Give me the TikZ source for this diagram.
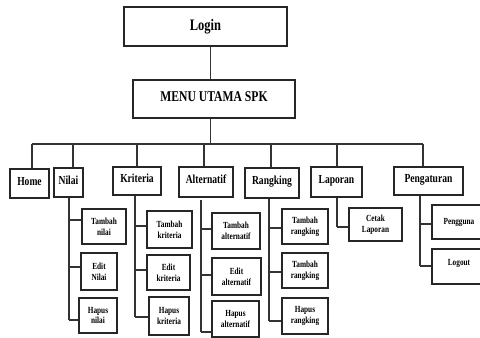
\documentclass[tikz,border=0pt]{standalone}
\usepackage{fontspec}
\setmainfont{Liberation Serif}[FakeStretch=0.78]
\begin{document}
\begin{tikzpicture}[x=0.75pt,y=-0.75pt,
  box/.style 2 args={draw=black!85, line width=0.9pt, rectangle, inner sep=0pt,
    minimum width=#1*0.75pt, minimum height=#2*0.75pt, align=center},
  topbox/.style 2 args={box={#1}{#2}, font=\fontsize{12}{14}\selectfont\bfseries},
  menubox/.style 2 args={box={#1}{#2}, font=\fontsize{11.2}{13}\selectfont\bfseries,
    text height=8pt, text depth=4pt},
  secbox/.style 2 args={box={#1}{#2}, font=\fontsize{9.2}{11}\selectfont\bfseries,
    text height=7pt, text depth=4pt},
  subbox/.style 2 args={box={#1}{#2}, font=\fontsize{7}{8}\selectfont\bfseries},
  link/.style={draw=black!80, line width=1pt}]
\useasboundingbox (0,0) rectangle (480,338);
\clip (0,0) rectangle (480,338);
\fill[white] (0,0) rectangle (480,338);

% top of the hierarchy
\node[topbox={163}{39}] (login) at (205.5,26.5) {Login};
\node[menubox={162}{38}] (menu) at (214,99) {MENU UTAMA SPK};

% main menu entries
\node[secbox={39}{29}] (home) at (29.5,183.5) {Home};
\node[secbox={29}{29}] (nilai) at (68.5,182.5) {Nilai};
\node[secbox={48}{28}] (kriteria) at (137,181) {Kriteria};
\node[secbox={54}{30}] (alternatif) at (206,182) {Alternatif};
\node[secbox={54}{30}] (rangking) at (272,183) {Rangking};
\node[secbox={51}{30}] (laporan) at (336.5,182) {Laporan};
\node[secbox={69}{28}] (pengaturan) at (428.5,181) {Pengaturan};

% sub menus
\node[subbox={44}{35}] (tnilai) at (104,226.5) {Tambah\\nilai};
\node[subbox={36}{37}] (enilai) at (99,271.5) {Edit\\Nilai};
\node[subbox={38}{35}] (hnilai) at (98,315.5) {Hapus\\nilai};

\node[subbox={45}{37}] (tkrit) at (169.5,229.5) {Tambah\\kriteria};
\node[subbox={43}{35}] (ekrit) at (168.5,272.5) {Edit\\kriteria};
\node[subbox={40}{38}] (hkrit) at (169,316) {Hapus\\kriteria};

\node[subbox={48}{36}] (talt) at (236,231) {Tambah\\alternatif};
\node[subbox={49}{37}] (ealt) at (236.5,276.5) {Edit\\alternatif};
\node[subbox={47}{36}] (halt) at (235.5,319) {Hapus\\alternatif};

\node[subbox={46}{35}] (trang) at (305,226.5) {Tambah\\rangking};
\node[subbox={46}{35}] (erang) at (305,270.5) {Tambah\\rangking};
\node[subbox={46}{36}] (hrang) at (305,316) {Hapus\\rangking};

\node[subbox={53}{33}] (cetak) at (375.5,224.5) {Cetak\\Laporan};

\node[subbox={54}{34}] (pengguna) at (459,222) {Pengguna};
\node[subbox={54}{35}] (logout) at (459,266.5) {\raisebox{6pt}{Logout}};

% login -> main menu -> bus
\coordinate (spine) at (210.5,144);
\draw[link] (spine |- login.south) -- (spine |- menu.north);
\draw[link] (spine |- menu.south) -- (spine);
\coordinate (busL) at (32,144);
\coordinate (busR) at (423,144);
\draw[link] (busL) -- (busR);

% drops from the bus
\coordinate (dHome) at (32,144);
\coordinate (dNilai) at (73,144);
\coordinate (dKrit) at (137,144);
\coordinate (dAlt) at (204,144);
\coordinate (dRang) at (271,144);
\coordinate (dLap) at (337,144);
\coordinate (dPeng) at (423,144);
\draw[link] (dHome) -- (dHome |- home.north);
\draw[link] (dNilai) -- (dNilai |- nilai.north);
\draw[link] (dKrit) -- (dKrit |- kriteria.north);
\draw[link] (dAlt) -- (dAlt |- alternatif.north);
\draw[link] (dRang) -- (dRang |- rangking.north);
\draw[link] (dLap) -- (dLap |- laporan.north);
\draw[link] (dPeng) -- (dPeng |- pengaturan.north);

% Nilai branch
\coordinate (n1) at (69,220);
\coordinate (n2) at (69,267);
\coordinate (n3) at (69,320);
\draw[link] (n3 |- nilai.south) -- (n3);
\draw[link] (n1) -- (n1 -| tnilai.west);
\draw[link] (n2) -- (n2 -| enilai.west);
\draw[link] (n3) -- (n3 -| hnilai.west);

% Kriteria branch
\coordinate (k1) at (135,226);
\coordinate (k2) at (135,270);
\coordinate (k3) at (135,317);
\draw[link] (k3 |- kriteria.south) -- (k3);
\draw[link] (k1) -- (k1 -| tkrit.west);
\draw[link] (k2) -- (k2 -| ekrit.west);
\draw[link] (k3) -- (k3 -| hkrit.west);

% Alternatif branch
\coordinate (a0) at (201,200);
\coordinate (a1) at (201,229);
\coordinate (a2) at (201,275);
\coordinate (a3) at (201,332);
\draw[link] (a0) -- (a3);
\draw[link] (a1) -- (a1 -| talt.west);
\draw[link] (a2) -- (a2 -| ealt.west);
\draw[link] (a3) -- (a3 -| halt.west);

% Rangking branch
\coordinate (r1) at (269,228);
\coordinate (r2) at (269,272);
\coordinate (r3) at (269,321);
\draw[link] (r3 |- rangking.south) -- (r3);
\draw[link] (r1) -- (r1 -| trang.west);
\draw[link] (r2) -- (r2 -| erang.west);
\draw[link] (r3) -- (r3 -| hrang.west);

% Laporan branch
\coordinate (l1) at (337,227);
\draw[link] (l1 |- laporan.south) -- (l1);
\draw[link] (l1) -- (l1 -| cetak.west);

% Pengaturan branch
\coordinate (p1) at (420,224);
\coordinate (p2) at (420,266);
\draw[link] (p2 |- pengaturan.south) -- (p2);
\draw[link] (p1) -- (p1 -| pengguna.west);
\draw[link] (p2) -- (p2 -| logout.west);
\end{tikzpicture}
\end{document}
